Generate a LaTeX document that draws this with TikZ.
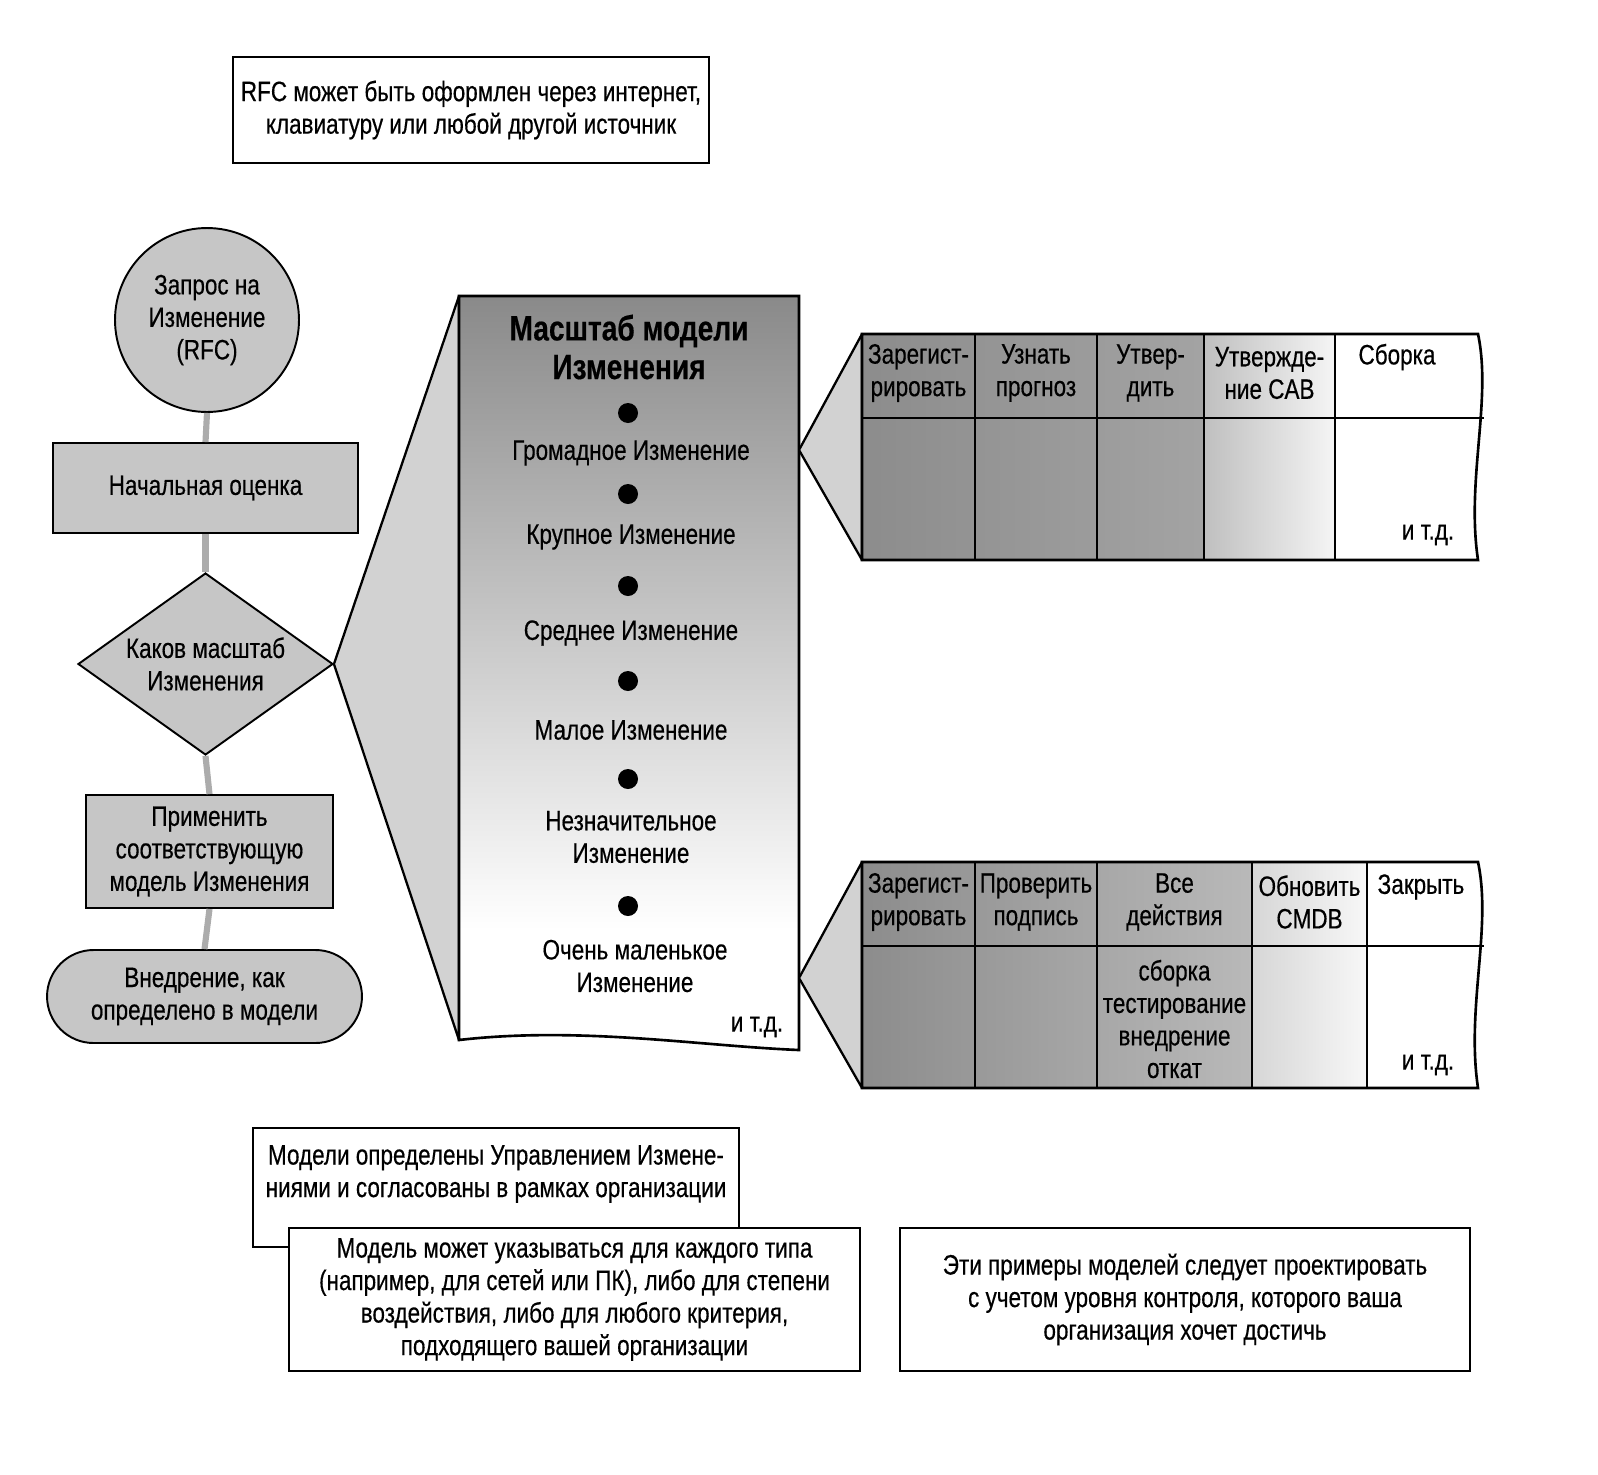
\documentclass[tikz,border=0pt]{standalone}
\usepackage{fontspec}
\setmainfont{Liberation Sans}[FakeStretch=0.8,FakeBold=0.4]
\usetikzlibrary{shapes.geometric,shapes.misc}

\tikzset{
  every node/.style={font=\fontsize{16}{18.5}\selectfont},
  note/.style={draw,line width=1.1pt,fill=white,align=center,inner sep=0pt},
  flow/.style={draw,line width=1.1pt,fill=gray!45,align=center,inner sep=0pt},
  link/.style={gray!65,line width=3.5pt},
  wedge/.style={draw,line width=1.3pt,fill=gray!35,line join=round},
  frame/.style={draw,line width=1.5pt},
  dot/.style={circle,fill=black,minimum size=0.4cm,inner sep=0pt},
  cell/.style={align=center,inner sep=0pt},
}

\begin{document}
\begin{tikzpicture}[x=0.02cm,y=-0.02cm]
\useasboundingbox (0,0) rectangle (1598,1474);

\node[note,minimum width=9.52cm,minimum height=2.12cm] (rfcnote) at (471,110)
  {RFC может быть оформлен через интернет,\\клавиатуру или любой другой источник};

\node[flow,circle,minimum size=3.68cm] (rfc) at (207,320) {Запрос на\\Изменение\\(RFC)};
\node[flow,minimum width=6.1cm,minimum height=1.8cm] (eval) at (205.5,488) {Начальная оценка};
\node[flow,diamond,shape aspect=1.4,minimum width=5.1cm,minimum height=3.64cm] (scale) at (205.5,664)
  {Каков масштаб\\Изменения};
\node[flow,minimum width=4.94cm,minimum height=2.26cm] (apply) at (209.5,851.5)
  {Применить\\соответствующую\\модель Изменения};
\node[flow,rounded rectangle,minimum width=6.3cm,minimum height=1.86cm] (impl) at (204.5,996.5)
  {Внедрение, как\\определено в модели};

\draw[link] (rfc.south) -- (eval.north);
\draw[link] (eval.south) -- (scale.north);
\draw[link] (scale.south) -- (apply.north);
\draw[link] (apply.south) -- (impl.north);

\coordinate (colTL) at (459,296);
\coordinate (colTR) at (799,296);
\coordinate (colBR) at (799,1050);
\coordinate (colBL) at (459,1040);
\coordinate (colUp) at (799,450);
\coordinate (colDown) at (799,978);

\filldraw[wedge] (scale.east) -- (colTL) -- (colBL) -- cycle;

\begin{scope}
\clip (colTL) -- (colTR) -- (colBR) .. controls (700,1046) and (580,1026) .. (colBL) -- cycle;
\fill[white] (459,296) rectangle (799,1060);
\shade[top color=gray!92,middle color=gray!70,bottom color=white] (459,296) rectangle (799,930);
\end{scope}
\draw[frame] (colTL) -- (colTR) -- (colBR) .. controls (700,1046) and (580,1026) .. (colBL) -- cycle;

\node[cell,font=\fontsize{20}{22}\selectfont\bfseries] (coltitle) at (629,347) {Масштаб модели\\Изменения};
\foreach \y [count=\i] in {413,494,586,681,779,906}
  \node[dot] (dot\i) at (628,\y) {};
\node[cell] (huge) at (631,453) {Громадное Изменение};
\node[cell] (major) at (631,537) {Крупное Изменение};
\node[cell] (medium) at (631,633) {Среднее Изменение};
\node[cell] (minor) at (631,730) {Малое Изменение};
\node[cell] (small) at (631,837) {Незначительное\\Изменение};
\node[cell] (tiny) at (635,966) {Очень маленькое\\Изменение};
\node[cell] (coletc) at (757,1027) {и т.д.};

\filldraw[wedge] (colUp) -- (862,334) -- (862,560) -- cycle;
\begin{scope}
\clip (862,334) -- (1478,334) .. controls (1492,400) and (1466,480) .. (1478,560) -- (862,560) -- cycle;
\shade[left color=gray!90,right color=gray!72] (862,334) rectangle (1204,560);
\shade[left color=gray!50,right color=gray!8] (1204,334) rectangle (1335,560);
\fill[white] (1335,334) rectangle (1500,560);
\end{scope}
\draw[frame] (862,334) -- (1478,334) .. controls (1492,400) and (1466,480) .. (1478,560) -- (862,560) -- cycle;
\draw[frame] (862,418) -- (1484,418);
\foreach \x in {975,1097,1204,1335}
  \draw[frame] (\x,334) -- (\x,560);

\node[cell] (upreg) at (918.5,373) {Зарегист-\\рировать};
\node[cell] (upfore) at (1036,373) {Узнать\\прогноз};
\node[cell] (upappr) at (1150.5,373) {Утвер-\\дить};
\node[cell] (upcab) at (1269.5,373) {Утвержде-\\ние CAB};
\node[cell] (upbuild) at (1397,357) {Сборка};
\node[cell] (upetc) at (1428,535) {и т.д.};

\filldraw[wedge] (colDown) -- (862,862) -- (862,1088) -- cycle;
\begin{scope}
\clip (862,862) -- (1478,862) .. controls (1492,928) and (1466,1008) .. (1478,1088) -- (862,1088) -- cycle;
\shade[left color=gray!90,right color=gray!55] (862,862) rectangle (1252,1088);
\shade[left color=gray!32,right color=gray!6] (1252,862) rectangle (1367,1088);
\fill[white] (1367,862) rectangle (1500,1088);
\end{scope}
\draw[frame] (862,862) -- (1478,862) .. controls (1492,928) and (1466,1008) .. (1478,1088) -- (862,1088) -- cycle;
\draw[frame] (862,946) -- (1484,946);
\foreach \x in {975,1097,1252,1367}
  \draw[frame] (\x,862) -- (\x,1088);

\node[cell] (lowreg) at (918.5,902) {Зарегист-\\рировать};
\node[cell] (lowsign) at (1036,902) {Проверить\\подпись};
\node[cell] (lowall) at (1174.5,902) {Все\\действия};
\node[cell] (lowcmdb) at (1309.5,902) {Обновить\\CMDB};
\node[cell] (lowclose) at (1421,887) {Закрыть};
\node[cell] (lowsteps) at (1174.5,1019) {сборка\\тестирование\\внедрение\\откат};
\node[cell] (lowetc) at (1428,1065) {и т.д.};

\node[note,minimum width=9.72cm,minimum height=2.38cm] (modeldef) at (496,1187.5) {};
\node[cell] (modeldeftext) at (496,1174) {Модели определены Управлением Измене-\\ниями и согласованы в рамках организации};
\node[note,minimum width=11.42cm,minimum height=2.86cm] (modeltype) at (574.5,1299.5)
  {Модель может указываться для каждого типа\\(например, для сетей или ПК), либо для степени\\воздействия, либо для любого критерия,\\подходящего вашей организации};
\node[note,minimum width=11.4cm,minimum height=2.86cm] (examples) at (1185,1299.5)
  {Эти примеры моделей следует проектировать\\с учетом уровня контроля, которого ваша\\организация хочет достичь};
\end{tikzpicture}
\end{document}
